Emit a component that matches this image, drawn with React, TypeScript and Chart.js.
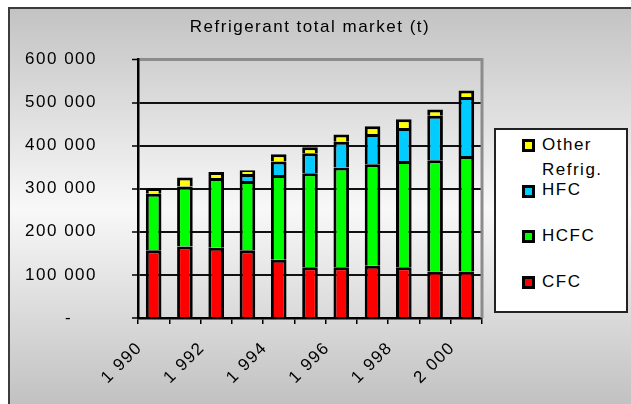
import React, { useEffect, useRef } from 'react';
import { Chart, registerables } from 'chart.js';

Chart.register(...registerables);

// Refrigerant market by family, tonnes per year
const years = ['1 990', '1 991', '1 992', '1 993', '1 994', '1 995', '1 996', '1 997', '1 998', '1 999', '2 000'];
const cfc = [157000, 166000, 163000, 157000, 135000, 118000, 118000, 121000, 118000, 108000, 108000];
const hcfc = [131000, 139000, 162000, 161000, 197000, 218000, 231000, 236000, 246000, 258000, 268000];
const hfc = [0, 0, 0, 16000, 31000, 46000, 60000, 70000, 77000, 103000, 137000];
const otherRefrig = [13000, 21000, 14000, 9000, 17000, 14000, 17000, 18000, 20000, 15000, 15000];

const seriesNames = ['CFC', 'HCFC', 'HFC', 'Other Refrig.'];
const seriesColors = ['#ff0000', '#00ff00', '#00ccff', '#ffff00'];
const seriesValues = [cfc, hcfc, hfc, otherRefrig];

const yTickLabels = ['-    ', '100 000', '200 000', '300 000', '400 000', '500 000', '600 000'];
const chartTitle = 'Refrigerant total market (t)';

const FONT = "'Liberation Sans', Arial, Helvetica, sans-serif";
const CANVAS_W = 621;
const CANVAS_H = 395;
const SPACING = '1.5px';

// Slightly tracked-out text, as in the spreadsheet rendering
const spacedText = {
  id: 'spacedText',
  beforeUpdate(chart: any) {
    chart.ctx.letterSpacing = SPACING;
  },
  beforeLayout(chart: any) {
    chart.ctx.letterSpacing = SPACING;
  },
  beforeDraw(chart: any) {
    chart.ctx.letterSpacing = SPACING;
  },
};

// Grey right-hand edge of the plot area
const plotFrame = {
  id: 'plotFrame',
  beforeDatasetsDraw(chart: any) {
    const { ctx, chartArea } = chart;
    ctx.save();
    ctx.strokeStyle = '#8c8c8c';
    ctx.lineWidth = 3;
    ctx.beginPath();
    ctx.moveTo(chartArea.right, chartArea.top - 1.5);
    ctx.lineTo(chartArea.right, chartArea.bottom);
    ctx.stroke();
    ctx.restore();
  },
};

export default function App() {
  const canvasRef = useRef<HTMLCanvasElement>(null);

  useEffect(() => {
    const canvas = canvasRef.current;
    if (!canvas) return;
    const tickFont = { family: FONT, size: 17 };
    const chart = new Chart(canvas, {
      type: 'bar',
      data: {
        labels: years,
        datasets: seriesValues.map((values, i) => ({
          label: seriesNames[i],
          data: values,
          backgroundColor: seriesColors[i],
          borderColor: '#000000',
          borderWidth: { top: 3, right: 3, bottom: 0, left: 3 },
          borderSkipped: false,
          inflateAmount: 0,
          barPercentage: 0.5,
          categoryPercentage: 1,
        })),
      },
      options: {
        animation: false,
        responsive: false,
        devicePixelRatio: 1,
        layout: { padding: { left: 0, right: CANVAS_W - 472, top: 0, bottom: 0 } },
        plugins: {
          legend: { display: false },
          tooltip: { enabled: false },
          title: {
            display: true,
            text: chartTitle,
            fullSize: false,
            color: '#000000',
            font: { family: FONT, size: 17, weight: 'normal' },
            padding: { top: 8, bottom: 22 },
          },
        },
        scales: {
          x: {
            stacked: true,
            grid: {
              display: true,
              drawOnChartArea: false,
              drawTicks: true,
              tickLength: 6,
              color: '#000000',
              lineWidth: 1.5,
              offset: true,
            },
            border: { display: true, color: '#000000', width: 2.5 },
            ticks: {
              autoSkip: false,
              minRotation: 45,
              maxRotation: 45,
              labelOffset: -14,
              padding: 14,
              color: '#000000',
              font: tickFont,
              callback: (_v: any, i: number) => (i % 2 === 0 ? years[i] : ''),
            },
            afterFit: (scale: any) => {
              scale.height = CANVAS_H - 309;
            },
          },
          y: {
            stacked: true,
            min: 0,
            max: 600000,
            ticks: {
              stepSize: 100000,
              padding: 35,
              color: '#000000',
              font: tickFont,
              callback: (v: any) => yTickLabels[Math.round(Number(v) / 100000)],
            },
            grid: {
              color: (ctx: any) => (ctx.tick && ctx.tick.value === 600000 ? '#8c8c8c' : '#111111'),
              lineWidth: (ctx: any) => (ctx.tick && ctx.tick.value === 600000 ? 3 : 2),
              drawTicks: true,
              tickLength: 6,
              tickColor: '#000000',
              tickWidth: 1.5,
            },
            border: { display: true, color: '#000000', width: 2.5 },
            afterFit: (scale: any) => {
              scale.width = 128;
            },
          },
        },
      },
      plugins: [spacedText, plotFrame],
    } as any);
    return () => chart.destroy();
  }, []);

  const legendOrder = [3, 2, 1, 0];

  return (
    <div
      style={{
        position: 'fixed',
        left: 8,
        top: 7,
        width: 640,
        height: 400,
        borderTop: '2px solid #3c3c3c',
        borderLeft: '2px solid #3c3c3c',
        background: 'linear-gradient(#c3c3c3, #f8f8f8 50%, #c0c0c0)',
        overflow: 'hidden',
      }}
    >
      <canvas
        ref={canvasRef}
        width={CANVAS_W}
        height={CANVAS_H}
        style={{ position: 'absolute', left: 0, top: 0, width: CANVAS_W, height: CANVAS_H }}
      />
      <div
        style={{
          position: 'absolute',
          left: 484,
          top: 119,
          width: 134,
          height: 185,
          boxSizing: 'border-box',
          border: '2px solid #222222',
          background: '#ffffff',
        }}
      />
      {legendOrder.map((s, i) => (
        <div
          key={seriesNames[s]}
          style={{ position: 'absolute', left: 512, top: 122.6 + i * 45.7, width: 110, height: 50 }}
        >
          <span
            style={{
              position: 'absolute',
              left: 0,
              top: 7.4,
              width: 13,
              height: 13,
              boxSizing: 'border-box',
              border: '3px solid #000000',
              background: seriesColors[s],
            }}
          />
          <div
            style={{
              position: 'absolute',
              left: 20,
              top: 0,
              width: 80,
              fontFamily: FONT,
              fontSize: 17,
              lineHeight: '25px',
              letterSpacing: SPACING,
              color: '#000000',
            }}
          >
            {seriesNames[s]}
          </div>
        </div>
      ))}
    </div>
  );
}
